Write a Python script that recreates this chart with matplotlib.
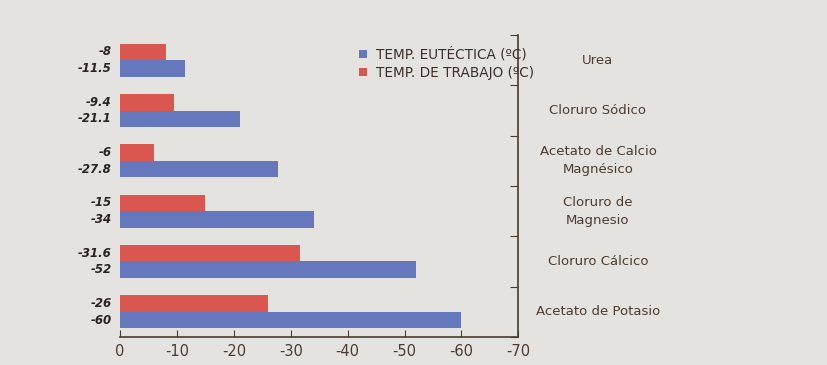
import matplotlib.pyplot as plt
import numpy as np

# data (bottom to top)
categories = ['Acetato de Potasio', 'Cloruro Cálcico', 'Cloruro de\nMagnesio',
              'Acetato de Calcio\nMagnésico', 'Cloruro Sódico', 'Urea']
eutectica = [-60, -52, -34, -27.8, -21.1, -11.5]
trabajo = [-26, -31.6, -15, -6, -9.4, -8]
eut_labels = ['-60', '-52', '-34', '-27.8', '-21.1', '-11.5']
trab_labels = ['-26', '-31.6', '-15', '-6', '-9.4', '-8']
xticks = [0, -10, -20, -30, -40, -50, -60, -70]

blue = '#6678bd'
red = '#d9574f'
txt = '#4a3c30'

fig = plt.figure(figsize=(8.28, 3.65), dpi=100, facecolor='#e5e3e0')
ax = fig.add_axes([0.145, 0.077, 0.481, 0.827])
ax.set_facecolor('#e5e3e0')

y = np.arange(len(categories))
h = 0.33
ax.barh(y - h / 2, eutectica, height=h, color=blue, label='TEMP. EUTÉCTICA (ºC)')
ax.barh(y + h / 2, trabajo, height=h, color=red, label='TEMP. DE TRABAJO (ºC)')

for i in range(len(categories)):
    ax.annotate(eut_labels[i], (0, y[i] - h / 2), xytext=(-6, 0), textcoords='offset points',
                ha='right', va='center', fontsize=8.5, fontweight='bold', fontstyle='italic', color='#2a2420')
    ax.annotate(trab_labels[i], (0, y[i] + h / 2), xytext=(-6, 0), textcoords='offset points',
                ha='right', va='center', fontsize=8.5, fontweight='bold', fontstyle='italic', color='#2a2420')
    ax.text(1.2, y[i], categories[i], transform=ax.get_yaxis_transform(),
            ha='center', va='center', fontsize=9.5, color=txt, linespacing=1.5)

ax.set_xlim(0, -70)
ax.set_ylim(-0.5, len(categories) - 0.5)
ax.set_xticks(xticks)
ax.set_xticklabels([str(t) for t in xticks], fontsize=10.5, color=txt)
ax.tick_params(axis='x', direction='in', length=5, color=txt, pad=5)

ax.yaxis.tick_right()
ax.set_yticks(np.arange(-0.5, len(categories), 1.0))
ax.set_yticklabels([])
ax.tick_params(axis='y', direction='in', length=6, color=txt)

for s in ['top', 'left']:
    ax.spines[s].set_visible(False)
ax.spines['bottom'].set_color(txt)
ax.spines['right'].set_color(txt)
ax.spines['bottom'].set_linewidth(1.2)
ax.spines['right'].set_linewidth(1.2)

handles, labels = ax.get_legend_handles_labels()
leg = ax.legend(handles, labels, loc='upper left', bbox_to_anchor=(0.57, 1.0), frameon=False,
                fontsize=9.8, handlelength=0.6, handleheight=0.6, handletextpad=0.6, labelspacing=0.3)
for t in leg.get_texts():
    t.set_color('#3a2f28')

plt.savefig('out.png', dpi=100, facecolor=fig.get_facecolor())
